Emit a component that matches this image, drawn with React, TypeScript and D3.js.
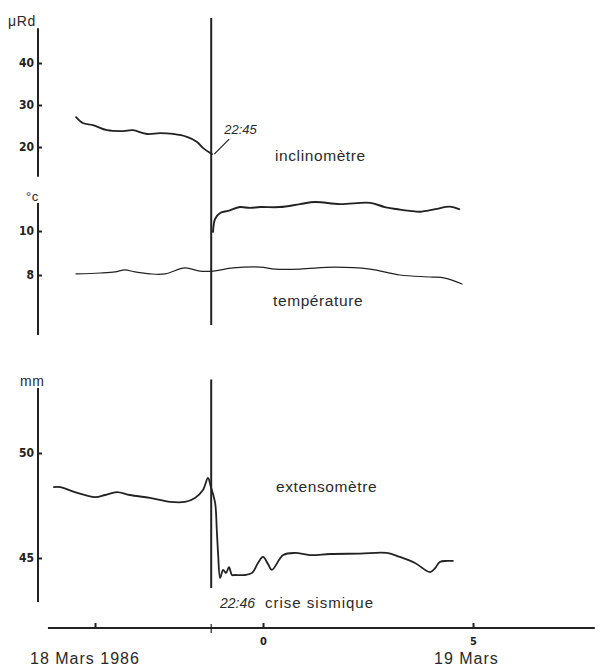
import React, { useEffect, useRef } from "react";
import * as d3 from "d3";

// hours relative to midnight 18/19 Mars 1986
const inclinoHours = [-4.45, -4.29, -4.05, -3.71, -3.33, -3.1, -2.76, -2.45, -2.14, -1.81, -1.57, -1.43, -1.21];
const inclinoValues = [27.1, 25.7, 25.2, 24.0, 23.8, 24.0, 23.1, 23.3, 23.1, 22.4, 21.2, 19.8, 18.3];

// inclinometer after the crisis (recorder offset)
const inclinoAfterHours = [-1.19, -1.14, -1.02, -0.83, -0.55, -0.31, -0.07, 0.4, 0.88, 1.24, 1.83, 2.55, 2.9, 3.26, 3.5, 3.74, 4.1, 4.45, 4.67];
const inclinoAfterValues = [-0.2, 2.9, 4.3, 4.8, 5.7, 5.5, 5.7, 5.7, 6.4, 6.9, 6.4, 6.7, 5.7, 5.1, 4.8, 4.6, 5.2, 5.8, 5.2];

const tempHours = [-4.45, -3.88, -3.52, -3.29, -3.05, -2.69, -2.33, -1.86, -1.5, -1.19, -0.71, -0.07, 0.29, 0.88, 1.71, 2.55, 3.26, 3.98, 4.33, 4.74];
const tempValues = [8.05, 8.09, 8.14, 8.23, 8.14, 8.05, 8.05, 8.32, 8.18, 8.18, 8.32, 8.36, 8.27, 8.27, 8.36, 8.27, 8.0, 7.91, 7.86, 7.59];

const extensoHours = [-4.98, -4.83, -4.48, -4.0, -3.76, -3.48, -3.17, -2.69, -2.21, -1.86, -1.62, -1.43, -1.31, -1.24, -1.14, -1.1, -1.07, -1.02, -0.95, -0.88, -0.81, -0.74, -0.67, -0.43, -0.26, -0.12, 0, 0.12, 0.21, 0.48, 0.76, 1.12, 1.6, 2.31, 2.95, 3.26, 3.62, 3.98, 4.1, 4.21, 4.38, 4.52];
const extensoValues = [48.38, 48.38, 48.14, 47.9, 48.0, 48.14, 48.0, 47.86, 47.67, 47.67, 47.86, 48.24, 48.81, 48.38, 47.62, 46.33, 45.24, 44.05, 44.43, 44.29, 44.57, 44.19, 44.19, 44.19, 44.29, 44.76, 45.05, 44.71, 44.43, 45.14, 45.24, 45.14, 45.19, 45.21, 45.24, 45.05, 44.76, 44.33, 44.52, 44.81, 44.86, 44.86];

const timeTicks = [-4, 0, 5];
const timeTickLabels = ["", "0", "5"];
const crisisHour = -(1 + 14 / 60);

const inclinoTicks = [20, 30, 40];
const tempTicks = [8, 10];
const extensoTicks = [45, 50];

const ink = "#222";
const narrow = "'Liberation Sans Narrow', 'DejaVu Sans Condensed', sans-serif";
const sans = "'Liberation Sans', Arial, sans-serif";

export default function App() {
  const ref = useRef<SVGSVGElement>(null);

  useEffect(() => {
    const svg = d3.select(ref.current);
    svg.selectAll("*").remove();

    const x = d3.scaleLinear().domain([0, 5]).range([263, 473]);
    const yIncl = d3.scaleLinear().domain([20, 40]).range([147, 63]);
    const yTemp = d3.scaleLinear().domain([8, 10]).range([275, 231]);
    const yExt = d3.scaleLinear().domain([45, 50]).range([558, 453]);
    const axisX = 38;

    // vertical axes
    const vAxis = (scale: d3.ScaleLinear<number, number>, ticks: number[], lo: number, hi: number) => {
      const g = svg.append("g").attr("transform", `translate(${axisX},0)`);
      g.call(d3.axisLeft(scale).tickValues(ticks).tickSize(-4).tickPadding(4).tickFormat(d3.format("d")));
      g.select(".domain").remove();
      g.selectAll(".tick line").attr("stroke", ink).attr("stroke-width", 2);
      g.selectAll(".tick text")
        .attr("fill", ink)
        .style("font-family", narrow)
        .style("font-weight", "bold")
        .style("font-size", "12px");
      g.append("line")
        .attr("y1", scale(lo)).attr("y2", scale(hi))
        .attr("stroke", ink).attr("stroke-width", 2);
    };
    vAxis(yIncl, inclinoTicks, 12.9, 48.3);
    vAxis(yTemp, tempTicks, 5.27, 11.27);
    vAxis(yExt, extensoTicks, 42.9, 53.1);

    // crisis line
    const cx = x(crisisHour);
    svg.append("line").attr("x1", cx).attr("x2", cx)
      .attr("y1", yIncl(50.7)).attr("y2", yTemp(5.73))
      .attr("stroke", ink).attr("stroke-width", 2);
    svg.append("line").attr("x1", cx).attr("x2", cx)
      .attr("y1", yExt(53.5)).attr("y2", yExt(43.57))
      .attr("stroke", ink).attr("stroke-width", 2);

    // curves
    const draw = (hours: number[], values: number[], y: d3.ScaleLinear<number, number>, w: number) => {
      const line = d3.line<number>()
        .x((d, i) => x(hours[i]))
        .y((d) => y(d))
        .curve(d3.curveCatmullRom.alpha(0.5));
      svg.append("path")
        .attr("d", line(values))
        .attr("fill", "none")
        .attr("stroke", ink)
        .attr("stroke-width", w)
        .attr("stroke-linejoin", "round")
        .attr("stroke-linecap", "round");
    };
    draw(inclinoHours, inclinoValues, yIncl, 1.8);
    draw(inclinoAfterHours, inclinoAfterValues, yIncl, 1.9);
    draw(tempHours, tempValues, yTemp, 1.2);
    draw(extensoHours, extensoValues, yExt, 1.8);

    // 22:45 leader
    const lx = x(inclinoHours[inclinoHours.length - 1]);
    const ly = yIncl(inclinoValues[inclinoValues.length - 1]);
    svg.append("line").attr("x1", lx + 2).attr("y1", ly).attr("x2", lx + 17).attr("y2", ly - 15)
      .attr("stroke", ink).attr("stroke-width", 1.2);

    // time axis
    const xAxisY = 628;
    const gx = svg.append("g").attr("transform", `translate(0,${xAxisY})`);
    gx.call(d3.axisBottom(x).tickValues(timeTicks).tickSize(-5).tickPadding(9)
      .tickFormat((d, i) => timeTickLabels[i]));
    gx.select(".domain").remove();
    gx.selectAll(".tick line").attr("stroke", ink).attr("stroke-width", 2);
    gx.selectAll(".tick text").attr("fill", ink)
      .style("font-family", narrow).style("font-weight", "bold").style("font-size", "11px");
    gx.append("line").attr("x1", x(-5.12)).attr("x2", x(7.9))
      .attr("stroke", ink).attr("stroke-width", 2);
    gx.append("line").attr("x1", cx).attr("x2", cx).attr("y1", -4).attr("y2", 5)
      .attr("stroke", ink).attr("stroke-width", 1.2);

    const text = (t: string, px: number, py: number, size: number, opts: any = {}) => {
      const el = svg.append("text")
        .attr("x", px).attr("y", py)
        .attr("fill", opts.fill || "#2a2a2a")
        .style("font-family", opts.family || sans)
        .style("font-size", `${size}px`)
        .style("font-style", opts.italic ? "italic" : "normal")
        .style("font-weight", opts.weight || "normal")
        .style("letter-spacing", `${opts.ls ?? 0.6}px`)
        .attr("text-anchor", opts.anchor || "start")
        .text(t);
      return el;
    };

    text("μRd", 8, 26, 14);
    text("°c", 26, 201, 13);
    text("mm", 20, 386, 14);
    text("22:45", lx + 12, ly - 20, 13, { italic: true, ls: 0 });
    text("inclinomètre", 275, 161, 15.5);
    text("température", 273, 306, 15.5);
    text("extensomètre", 276, 492, 15.5);
    text("22:46", 220, 608, 14, { italic: true, ls: 0 });
    text("crise  sismique", 265, 608, 15, { ls: 1 });
    text("18 Mars 1986", 30, 664, 16, { ls: 1 });
    text("19 Mars", 434, 664, 16, { ls: 1 });
  }, []);

  return (
    <svg
      ref={ref}
      width={601}
      height={670}
      style={{ position: "absolute", left: 0, top: 0, background: "#fff" }}
    />
  );
}
